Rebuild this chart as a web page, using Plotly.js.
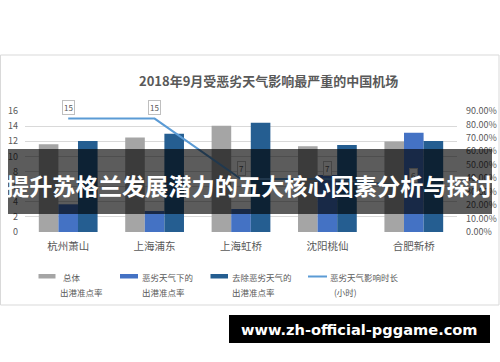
<!DOCTYPE html>
<html>
<head>
<meta charset="utf-8">
<script src="https://cdn.plot.ly/plotly-3.0.1.min.js"></script>
<style>
html,body{margin:0;padding:0;background:#fff;}
#chart{width:500px;height:362px;}
</style>
</head>
<body>
<div id="chart"></div>
<script>
// ---- data ----
const categories = ['杭州萧山', '上海浦东', '上海虹桥', '沈阳桃仙', '合肥新桥'];
const overallRate = [0.652, 0.702, 0.791, 0.637, 0.674];      // 总体出港准点率
const badWeatherRate = [0.206, 0.156, 0.171, 0.424, 0.739];   // 恶劣天气下的出港准点率
const exclWeatherRate = [0.677, 0.731, 0.813, 0.647, 0.677];  // 去除恶劣天气的出港准点率
const weatherHours = [15, 15, 7, 7, 6];                        // 恶劣天气影响时长(小时)
const seriesNames = ['总体<br>出港准点率', '恶劣天气下的<br>出港准点率', '去除恶劣天气的<br>出港准点率', '恶劣天气影响时长<br>(小时)'];
const leftTicks = [0, 2, 4, 6, 8, 10, 12, 14, 16];
const rightTicks = [0, 0.1, 0.2, 0.3, 0.4, 0.5, 0.6, 0.7, 0.8, 0.9];
const chartTitle = '2018年9月受恶劣天气影响最严重的中国机场';
const bannerText = '提升苏格兰发展潜力的五大核心因素分析与探讨';
const urlText = 'www.zh-official-pggame.com';

// ---- layout helpers (pixel -> paper) ----
const W = 500, H = 362, ML = 25, MR = 43, MT = 111, MB = 130;
const PW = W - ML - MR, PH = H - MT - MB;
const px = x => (x - ML) / PW;
const py = y => (H - MB - y) / PH;
const BAND_TOP = 149, BAND_BOTTOM = 214, BAND_ALPHA = 0.64;
const dim = c => { // colour seen through the dark banner
  const n = parseInt(c.slice(1), 16);
  const f = v => Math.round(v * (1 - BAND_ALPHA)).toString(16).padStart(2, '0');
  return '#' + f((n >> 16) & 255) + f((n >> 8) & 255) + f(n & 255);
};

const FONT = '"Noto Sans CJK SC", "Noto Sans", sans-serif';
const colors = ['#a5a5a5', '#4472c4', '#255e91', '#5b9bd5'];
const txtColor = '#595959';

const traces = [
  {type: 'bar', x: categories, y: overallRate, name: seriesNames[0], marker: {color: colors[0]}, yaxis: 'y'},
  {type: 'bar', x: categories, y: badWeatherRate, name: seriesNames[1], marker: {color: colors[1]}, yaxis: 'y'},
  {type: 'bar', x: categories, y: exclWeatherRate, name: seriesNames[2], marker: {color: colors[2]}, yaxis: 'y'},
  {type: 'scatter', mode: 'lines', x: categories, y: weatherHours, name: seriesNames[3],
   line: {color: colors[3], width: 2}, yaxis: 'y2'}
];

const annotations = [];
// value labels for the line
weatherHours.forEach((v, i) => {
  const labelY = H - MB - v * PH / 16 - 11;
  const inBand = labelY > BAND_TOP && labelY < BAND_BOTTOM;
  annotations.push({x: categories[i], y: v, xref: 'x', yref: 'y2', text: String(v), showarrow: false,
    yshift: 11, font: {family: FONT, size: 8, color: inBand ? dim(txtColor) : txtColor},
    bgcolor: inBand ? dim('#ffffff') : '#ffffff',
    bordercolor: inBand ? dim('#bfbfbf') : '#bfbfbf', borderwidth: 1, borderpad: 1});
});
// title
annotations.push({xref: 'paper', yref: 'paper', x: px(268), y: py(80), text: '<b>' + chartTitle + '</b>',
  showarrow: false, xanchor: 'center', yanchor: 'middle', font: {family: FONT, size: 13, color: txtColor}});

// custom legend
const legendItems = [
  {sx: 38.5, sw: 17, kind: 'bar', l1: '总体', l1x: 61, l2: '出港准点率', l2x: 58},
  {sx: 120, sw: 18, kind: 'bar', l1: '恶劣天气下的', l1x: 140, l2: '出港准点率', l2x: 140},
  {sx: 210.5, sw: 17.5, kind: 'bar', l1: '去除恶劣天气的', l1x: 230, l2: '出港准点率', l2x: 230},
  {sx: 308, sw: 19, kind: 'line', l1: '恶劣天气影响时长', l1x: 328, l2: '(小时)', l2x: 332}
];
const shapes = [];
// chart frame
shapes.push({type: 'rect', xref: 'paper', yref: 'paper', x0: px(0.5), x1: px(499), y0: py(305), y1: py(55),
  line: {color: '#d9d9d9', width: 1}, fillcolor: 'rgba(0,0,0,0)', layer: 'below'});
legendItems.forEach((it, i) => {
  if (it.kind === 'bar') {
    shapes.push({type: 'rect', xref: 'paper', yref: 'paper', x0: px(it.sx), x1: px(it.sx + it.sw),
      y0: py(278.5), y1: py(274), fillcolor: colors[i], line: {width: 0}});
  } else {
    shapes.push({type: 'line', xref: 'paper', yref: 'paper', x0: px(it.sx), x1: px(it.sx + it.sw),
      y0: py(276.5), y1: py(276.5), line: {color: colors[i], width: 2}});
  }
  annotations.push({xref: 'paper', yref: 'paper', x: px(it.l1x), y: py(276.5), text: it.l1, showarrow: false,
    xanchor: 'left', yanchor: 'middle', font: {family: FONT, size: 8.5, color: txtColor}});
  annotations.push({xref: 'paper', yref: 'paper', x: px(it.l2x), y: py(291.5), text: it.l2, showarrow: false,
    xanchor: 'left', yanchor: 'middle', font: {family: FONT, size: 8.5, color: txtColor}});
});

// overlay banner
shapes.push({type: 'rect', xref: 'paper', yref: 'paper', x0: px(8), x1: px(492), y0: py(BAND_BOTTOM), y1: py(BAND_TOP),
  fillcolor: 'rgba(0,0,0,' + BAND_ALPHA + ')', line: {width: 0}, layer: 'above'});
annotations.push({xref: 'paper', yref: 'paper', x: px(249), y: py(184.5), text: '<b>' + bannerText + '</b>',
  showarrow: false, xanchor: 'center', yanchor: 'middle', font: {family: FONT, size: 23.2, color: '#ffffff'}});
// url box
shapes.push({type: 'rect', xref: 'paper', yref: 'paper', x0: px(229), x1: px(490), y0: py(343), y1: py(315),
  fillcolor: '#000000', line: {width: 0}, layer: 'above'});
annotations.push({xref: 'paper', yref: 'paper', x: px(359.5), y: py(329), text: '<b>' + urlText + '</b>',
  showarrow: false, xanchor: 'center', yanchor: 'middle', font: {family: '"DejaVu Sans", sans-serif', size: 14.6, color: '#ffffff'}});

const layout = {
  width: W, height: H,
  margin: {l: ML, r: MR, t: MT, b: MB, pad: 0},
  paper_bgcolor: '#ffffff', plot_bgcolor: 'rgba(0,0,0,0)',
  showlegend: false,
  barmode: 'group', bargap: 0.32, bargroupgap: 0,
  font: {family: FONT, color: txtColor},
  xaxis: {type: 'category', showgrid: false, zeroline: false, showline: false, ticks: '',
    tickfont: {family: FONT, size: 10.5, color: txtColor}, ticklabelstandoff: 6, fixedrange: true},
  yaxis: {side: 'right', range: [0, 0.9], tickvals: rightTicks, tickformat: '.2%', showgrid: false,
    zeroline: false, showline: false, ticks: '', tickfont: {family: FONT, size: 9, color: txtColor},
    ticklabelstandoff: 8},
  yaxis2: {side: 'left', overlaying: 'y', range: [0, 16], tickvals: leftTicks, showgrid: true,
    gridcolor: '#d9d9d9', gridwidth: 1, zeroline: false, showline: false, ticks: '',
    tickfont: {family: FONT, size: 9, color: txtColor}, ticklabelstandoff: 6},
  shapes: shapes,
  annotations: annotations
};

Plotly.newPlot('chart', traces, layout, {staticPlot: true, displayModeBar: false});
</script>
</body>
</html>
